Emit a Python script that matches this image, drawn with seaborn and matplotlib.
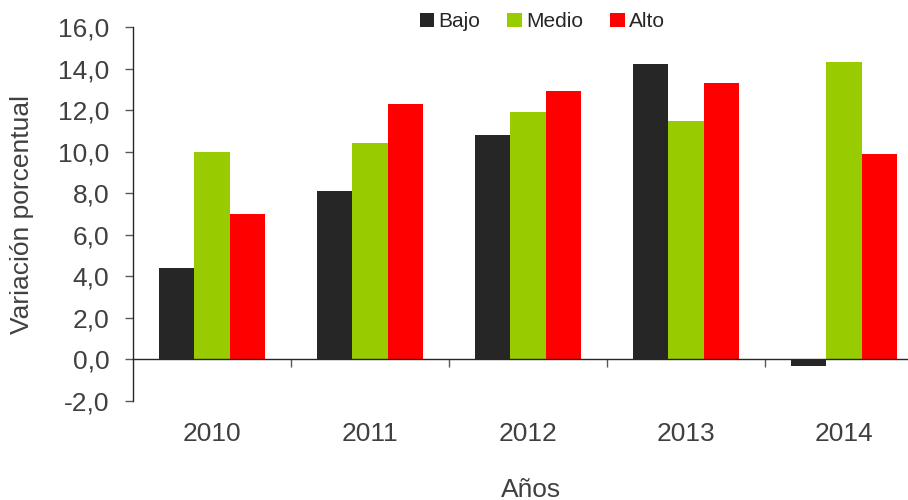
import seaborn as sns
import pandas as pd
import matplotlib.pyplot as plt
from matplotlib.ticker import FuncFormatter, FixedLocator

sns.set_theme(style="white")
plt.rcParams['font.family'] = ['Liberation Sans', 'DejaVu Sans']

years = ["2010", "2011", "2012", "2013", "2014"]
bajo = [4.4, 8.1, 10.8, 14.2, -0.3]
medio = [10.0, 10.4, 11.9, 11.5, 14.3]
alto = [7.0, 12.3, 12.9, 13.3, 9.9]

colors = {"Bajo": "#262626", "Medio": "#99CC00", "Alto": "#FF0000"}

rows = []
for i, y in enumerate(years):
    rows.append({"year": y, "nivel": "Bajo", "valor": bajo[i]})
    rows.append({"year": y, "nivel": "Medio", "valor": medio[i]})
    rows.append({"year": y, "nivel": "Alto", "valor": alto[i]})
df = pd.DataFrame(rows)

fig = plt.figure(figsize=(9.08, 5), dpi=100)
ax = fig.add_axes([133 / 908, 1 - 401 / 500, 790 / 908, 374 / 500])

sns.barplot(data=df, x="year", y="valor", hue="nivel", palette=colors,
            width=0.665, gap=0, linewidth=0, saturation=1, ax=ax)

ax.set_ylim(-2, 16)
ax.set_xlim(-0.5, 4.5)
ax.set_yticks(range(-2, 17, 2))
ax.yaxis.set_major_formatter(FuncFormatter(lambda v, p: f"{v:.1f}".replace(".", ",")))

ax.spines["top"].set_visible(False)
ax.spines["right"].set_visible(False)
ax.spines["bottom"].set_position(("data", 0))
ax.spines["bottom"].set_color("#262626")
ax.spines["left"].set_color("#262626")
ax.spines["bottom"].set_linewidth(1.0)
ax.spines["left"].set_linewidth(1.0)

ax.tick_params(axis="y", direction="out", length=6, width=1, color="#595959",
               labelsize=19, labelcolor="#404040", left=True, pad=11)
ax.tick_params(axis="x", which="major", length=0, pad=45, labelsize=19,
               labelcolor="#404040")
ax.xaxis.set_minor_locator(FixedLocator([0.5, 1.5, 2.5, 3.5]))
ax.tick_params(axis="x", which="minor", direction="out", length=6, width=1,
               color="#595959", bottom=True)

ax.set_xlabel("Años", fontsize=19, color="#404040")
ax.set_ylabel("Variación porcentual", fontsize=19, color="#404040")
ax.xaxis.set_label_coords(0.504, -0.205)
ax.yaxis.set_label_coords(-0.125, 0.5)

ax.legend(loc="upper center", bbox_to_anchor=(0.518, 1.09), ncol=3, frameon=False,
          fontsize=15, handlelength=0.7, handleheight=0.7, handletextpad=0.2,
          columnspacing=1.3, labelcolor="#262626")

ax.grid(False)
fig.savefig("out.png", dpi=100)
